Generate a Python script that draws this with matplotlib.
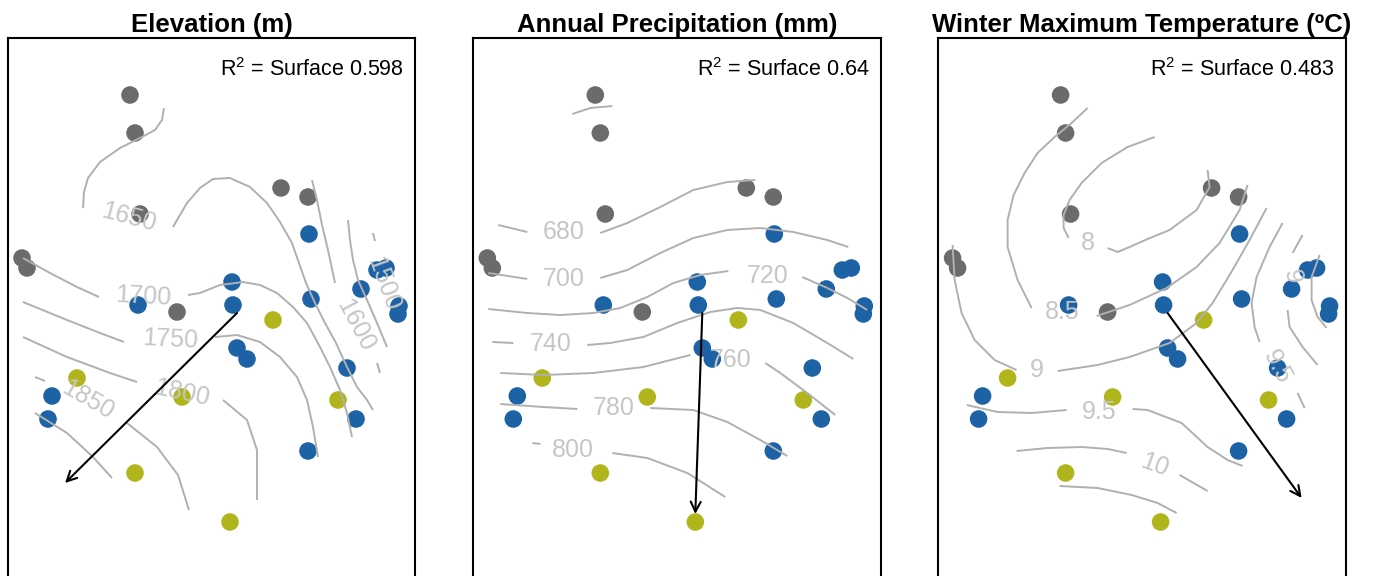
import matplotlib
matplotlib.use("Agg")
import matplotlib.pyplot as plt

plt.rcParams['font.family'] = ['Liberation Sans', 'DejaVu Sans']
plt.rcParams['mathtext.fontset'] = 'custom'
plt.rcParams['mathtext.rm'] = 'Liberation Sans'
plt.rcParams['mathtext.it'] = 'Liberation Sans:italic'
plt.rcParams['mathtext.bf'] = 'Liberation Sans:bold'

# ---------------- site scores (NMDS1, NMDS2), by group ----------------
gray_x = [-1.07, -1.02, 0.44, 0.71, -0.97, -2.15, -2.10, -0.60]
gray_y = [2.18, 1.80, 1.25, 1.16, 0.99, 0.55, 0.45, 0.01]
blue_x = [0.72, 1.40, 1.49, -0.05, -0.04, -0.99, 0.74, 1.24, 1.62, 1.61,
          0.00, 0.10, 1.10, -1.85, -1.89, 1.19, 0.71]
blue_y = [0.79, 0.43, 0.45, 0.31, 0.08, 0.08, 0.14, 0.24, 0.07, -0.01,
          -0.35, -0.46, -0.55, -0.83, -1.06, -1.06, -1.38]
olive_x = [0.36, -1.60, -0.55, 1.01, -1.02, -0.07]
olive_y = [-0.07, -0.65, -0.84, -0.87, -1.60, -2.09]

# ---------------- panels ----------------
titles = ["Elevation (m)", "Annual Precipitation (mm)",
          "Winter Maximum Temperature (\u00baC)"]
r2_values = ["0.598", "0.64", "0.483"]
arrow_x = [-1.72, -0.07, 1.34]
arrow_y = [-1.70, -2.01, -1.85]

# ---------------- fitted-surface contour segments ----------------
elev_segments = [
    [(1.36, 0.80), (1.38, 0.72)],                                   # 1500
    [(1.11, 0.93), (1.13, 0.73), (1.16, 0.53), (1.21, 0.33), (1.30, 0.13),
     (1.40, -0.10), (1.50, -0.34)],                                 # 1550
    [(0.75, 1.33), (0.80, 1.13), (0.85, 0.88), (0.91, 0.63), (0.98, 0.30)],
    [(1.40, -0.50), (1.43, -0.60)],                                 # 1600
    [(-0.73, 2.05), (-0.75, 1.93), (-0.82, 1.83), (-0.97, 1.75), (-1.17, 1.65),
     (-1.37, 1.51), (-1.49, 1.35), (-1.53, 1.21), (-1.54, 1.05)],
    [(-0.64, 0.86), (-0.50, 1.10), (-0.37, 1.25), (-0.24, 1.34), (-0.07, 1.35),
     (0.13, 1.26), (0.30, 1.10), (0.43, 0.91), (0.55, 0.70), (0.62, 0.50),
     (0.69, 0.30), (0.78, 0.10), (0.88, -0.10), (0.99, -0.30), (1.10, -0.54),
     (1.20, -0.74), (1.30, -0.87), (1.36, -0.97)],                  # 1650
    [(-2.14, 0.55), (-1.87, 0.40), (-1.60, 0.26), (-1.38, 0.16)],
    [(-0.49, 0.18), (-0.37, 0.20), (-0.17, 0.28), (0.06, 0.31), (0.23, 0.28),
     (0.40, 0.20), (0.56, 0.06), (0.70, -0.10), (0.83, -0.34), (0.93, -0.54),
     (1.03, -0.77), (1.10, -1.00), (1.15, -1.24)],                  # 1700
    [(-2.14, 0.11), (-1.70, -0.07), (-1.37, -0.20), (-1.13, -0.29)],
    [(-0.22, -0.24), (0.00, -0.22), (0.23, -0.29), (0.43, -0.44), (0.60, -0.64),
     (0.70, -0.87), (0.76, -1.14), (0.81, -1.44)],                  # 1750
    [(-2.14, -0.24), (-1.70, -0.44), (-1.27, -0.60), (-1.00, -0.69)],
    [(-0.14, -0.87), (0.10, -1.07), (0.20, -1.37), (0.20, -1.87)],  # 1800
    [(-2.02, -0.64), (-1.92, -0.68)],
    [(-1.10, -1.10), (-0.80, -1.34), (-0.59, -1.62), (-0.48, -1.97)],  # 1850
    [(-2.02, -1.00), (-1.70, -1.20), (-1.44, -1.44), (-1.25, -1.65)],  # 1900
]
elev_labels = ["1500", "1600", "1650", "1700", "1750", "1800", "1850"]
elev_label_xy = [(1.46, 0.29), (1.18, -0.12), (-1.08, 0.96), (-0.94, 0.17),
                 (-0.67, -0.26), (-0.55, -0.80), (-1.49, -0.87)]
elev_label_rot = [-70, -62, -15, -3, -3, -12, -30]

prec_segments = [
    [(-1.30, 1.99), (-1.12, 2.05), (-0.90, 2.07)],                  # 660
    [(-2.04, 0.88), (-1.75, 0.81)],
    [(-1.02, 0.80), (-0.75, 0.90), (-0.42, 1.06), (-0.09, 1.23), (0.25, 1.31),
     (0.53, 1.33)],                                                 # 680
    [(-2.14, 0.40), (-1.75, 0.34)],
    [(-1.02, 0.35), (-0.75, 0.43), (-0.42, 0.60), (-0.09, 0.75), (0.25, 0.83),
     (0.58, 0.85), (0.91, 0.81), (1.25, 0.73), (1.46, 0.66)],       # 700
    [(-2.14, 0.04), (-1.75, 0.00), (-1.42, -0.02), (-1.09, 0.00), (-0.82, 0.05),
     (-0.55, 0.16), (-0.29, 0.30), (-0.02, 0.38), (0.26, 0.42)],
    [(1.00, 0.36), (1.25, 0.25), (1.45, 0.15), (1.65, 0.03)],       # 720
    [(-2.10, -0.29), (-1.89, -0.30)],
    [(-1.15, -0.32), (-0.92, -0.30), (-0.59, -0.24), (-0.25, -0.10), (0.08, 0.01),
     (0.35, 0.05), (0.58, 0.03), (0.91, -0.10), (1.25, -0.30), (1.51, -0.46)],
    [(-2.02, -0.60), (-1.59, -0.62), (-1.09, -0.60), (-0.59, -0.54),
     (-0.12, -0.42)],
    [(0.63, -0.50), (0.78, -0.60), (1.05, -0.80), (1.33, -1.02)],   # 760
    [(-2.02, -0.91), (-1.59, -0.94), (-1.25, -0.96)],
    [(-0.52, -0.95), (-0.09, -0.97), (0.25, -1.09), (0.58, -1.27),
     (0.85, -1.43)],                                                # 780
    [(-1.70, -1.30), (-1.62, -1.31)],
    [(-0.90, -1.40), (-0.55, -1.45), (-0.15, -1.60), (0.23, -1.84)],  # 800
]
prec_labels = ["680", "700", "720", "740", "760", "780", "800"]
prec_label_xy = [(-1.39, 0.81), (-1.39, 0.34), (0.65, 0.37), (-1.52, -0.31),
                 (0.28, -0.47), (-0.89, -0.95), (-1.29, -1.37)]
prec_label_rot = [0, 0, 0, 0, 0, 0, 0]

temp_segments = [
    [(-0.13, 1.76), (-0.40, 1.66), (-0.66, 1.50), (-0.86, 1.30), (-0.98, 1.13),
     (-1.04, 0.98), (-1.04, 0.85), (-0.99, 0.75)],
    [(-0.60, 0.65), (-0.50, 0.61), (-0.38, 0.66), (-0.20, 0.74), (0.02, 0.83),
     (0.29, 1.03), (0.42, 1.26), (0.40, 1.43)],                     # 8
    [(-0.80, 2.05), (-0.96, 1.90), (-1.13, 1.76), (-1.30, 1.60), (-1.43, 1.40),
     (-1.54, 1.18), (-1.60, 0.93), (-1.60, 0.66), (-1.50, 0.33), (-1.36, 0.05)],
    [(-0.71, -0.03), (-0.53, 0.03), (-0.38, 0.08), (-0.01, 0.25), (0.29, 0.46),
     (0.52, 0.70), (0.72, 1.03), (0.80, 1.28)],                     # 8.5
    [(1.52, 0.58), (1.44, 0.36), (1.44, 0.13), (1.50, -0.04), (1.59, -0.15)],
    [(-2.15, 0.68), (-2.13, 0.33), (-2.06, 0.00), (-1.93, -0.27), (-1.73, -0.47),
     (-1.51, -0.57)],
    [(-1.10, -0.58), (-0.70, -0.52), (-0.38, -0.44), (0.02, -0.30), (0.29, -0.10),
     (0.45, 0.10), (0.65, 0.43), (0.82, 0.73), (0.99, 1.05)],       # 9
    [(1.35, 0.78), (1.25, 0.60)],
    [(1.20, 0.03), (1.22, -0.14), (1.35, -0.34), (1.50, -0.52)],    # 9 (right)
    [(-2.01, -0.92), (-1.70, -0.99), (-1.36, -1.00), (-1.01, -0.97)],
    [(-0.35, -0.96), (-0.20, -0.97), (0.14, -1.10), (0.40, -1.34), (0.60, -1.47),
     (0.75, -1.53)],                                                # 9.5
    [(1.15, 0.90), (1.02, 0.66), (0.89, 0.36), (0.84, 0.10), (0.87, -0.14),
     (0.92, -0.29)],
    [(1.30, -0.80), (1.37, -0.95)],                                 # 9.5 (right)
    [(-1.51, -1.38), (-1.20, -1.35), (-0.86, -1.34), (-0.60, -1.36),
     (-0.41, -1.40)],
    [(0.12, -1.62), (0.40, -1.78)],                                 # 10
    [(-1.08, -1.73), (-0.70, -1.75), (-0.36, -1.82), (-0.10, -1.90),
     (0.09, -2.00)],                                                # 10.5
]
temp_labels = ["8", "8.5", "9", "9", "9.5", "9.5", "10"]
temp_label_xy = [(-0.80, 0.70), (-1.05, 0.01), (-1.31, -0.57), (1.24, 0.36),
                 (-0.68, -0.99), (1.10, -0.54), (-0.13, -1.52)]
temp_label_rot = [0, 0, 0, -80, 0, -62, -20]

panel_segments = [elev_segments, prec_segments, temp_segments]
panel_labels = [elev_labels, prec_labels, temp_labels]
panel_label_xy = [elev_label_xy, prec_label_xy, temp_label_xy]
panel_label_rot = [elev_label_rot, prec_label_rot, temp_label_rot]

# ---------------- figure ----------------
W, H = 1373, 576
fig = plt.figure(figsize=(W / 100, H / 100), dpi=100)

GRAY, BLUE, OLIVE = "#6b6b6b", "#1c62a5", "#b1b51c"
LINE_C, LABEL_C = "#b0b0b0", "#c6c6c6"

for k in range(3):
    left = (7.5 + 465.3 * k) / W
    ax = fig.add_axes([left, -20 / H, 408 / W, 558 / H])
    ax.set_xlim(-2.295, 1.785)
    ax.set_ylim(-2.83, 2.75)
    ax.set_xticks([])
    ax.set_yticks([])
    for sp in ax.spines.values():
        sp.set_linewidth(1.5)
        sp.set_color("black")

    ms = 160
    ax.scatter(gray_x, gray_y, s=ms, color=GRAY, edgecolors="none", zorder=2)
    ax.scatter(blue_x, blue_y, s=ms, color=BLUE, edgecolors="none", zorder=2)
    ax.scatter(olive_x, olive_y, s=ms, color=OLIVE, edgecolors="none", zorder=2)

    for seg in panel_segments[k]:
        xs = [p[0] for p in seg]
        ys = [p[1] for p in seg]
        ax.plot(xs, ys, color=LINE_C, lw=1.4, zorder=3,
                solid_capstyle="butt", solid_joinstyle="round")

    for lab, (lx, ly), rot in zip(panel_labels[k], panel_label_xy[k],
                                  panel_label_rot[k]):
        ax.text(lx, ly, lab, fontsize=18, color=LABEL_C, ha="center",
                va="center", rotation=rot, rotation_mode="anchor", zorder=3)

    ax.annotate("", xy=(arrow_x[k], arrow_y[k]), xytext=(0, 0),
                arrowprops=dict(arrowstyle="->", color="black", lw=1.5,
                                shrinkA=0, shrinkB=0, mutation_scale=18),
                zorder=4)

    ax.text(1.67, 2.37, r"$\mathrm{R}^{2}$ = Surface " + r2_values[k],
            fontsize=15.5, ha="right", va="baseline", zorder=5)

    ax.set_title(titles[k], fontsize=18.5, fontweight="bold", pad=4)

fig.savefig("out.png", dpi=100)
